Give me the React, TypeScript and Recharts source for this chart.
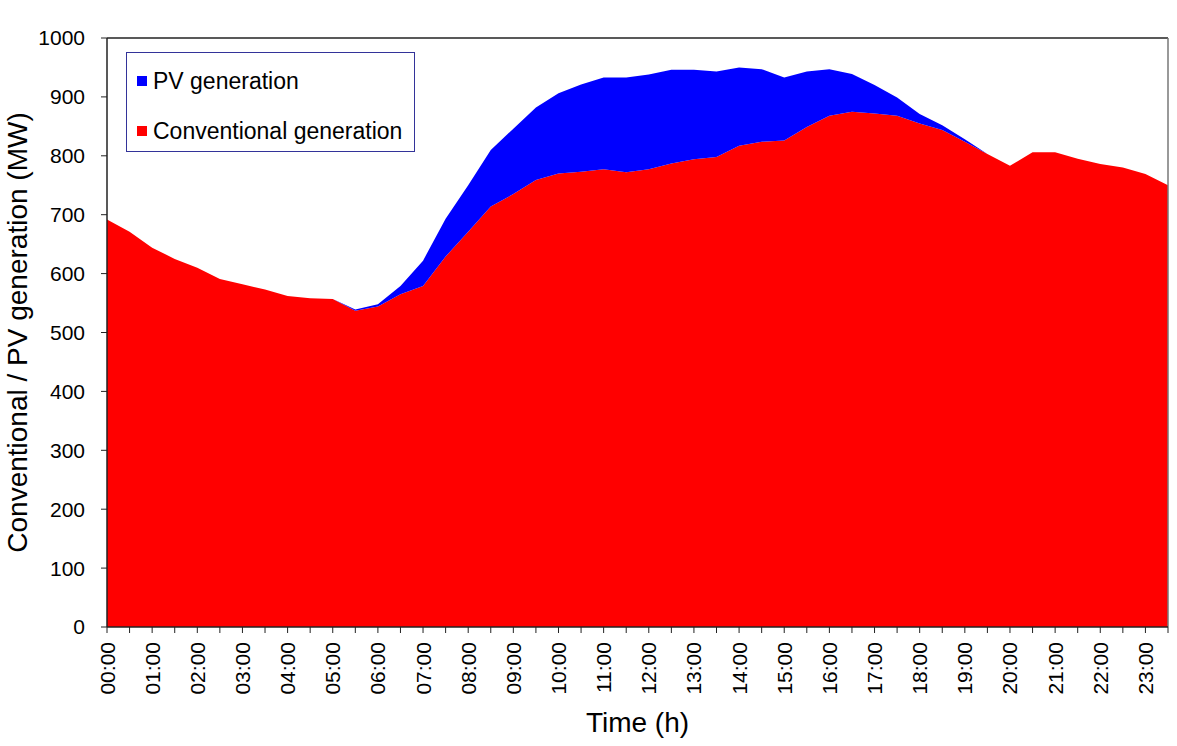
import { Area, AreaChart, ReferenceLine, XAxis, YAxis } from "recharts";

const TIMES = [
	"00:00", "00:30", "01:00", "01:30", "02:00", "02:30", "03:00", "03:30",
	"04:00", "04:30", "05:00", "05:30", "06:00", "06:30", "07:00", "07:30",
	"08:00", "08:30", "09:00", "09:30", "10:00", "10:30", "11:00", "11:30",
	"12:00", "12:30", "13:00", "13:30", "14:00", "14:30", "15:00", "15:30",
	"16:00", "16:30", "17:00", "17:30", "18:00", "18:30", "19:00", "19:30",
	"20:00", "20:30", "21:00", "21:30", "22:00", "22:30", "23:00", "23:30",
];

// conventional generation (MW)
const CONVENTIONAL = [
	692, 671, 644, 625, 610, 591, 582, 573, 562, 558, 557, 537, 544, 565, 579, 629,
	671, 714, 735, 759, 770, 773, 777, 772, 777, 787, 794, 798, 817, 824, 826, 849,
	868, 875, 872, 868, 855, 844, 824, 803, 783, 806, 806, 795, 786, 780, 769, 750,
];

// PV generation (MW), stacked on top
const PV = [
	0, 0, 0, 0, 0, 0, 0, 0, 0, 0, 0, 2, 4, 14, 43, 64,
	79, 96, 111, 123, 136, 148, 156, 161, 161, 159, 152, 145, 133, 123, 107, 94,
	79, 64, 48, 31, 16, 8, 4, 0, 0, 0, 0, 0, 0, 0, 0, 0,
];

const Y_TICKS = [0, 100, 200, 300, 400, 500, 600, 700, 800, 900, 1000];

const data = TIMES.map((t, i) => ({ time: t, conv: CONVENTIONAL[i], pv: PV[i] }));

const FONT = "'Liberation Sans', Arial, sans-serif";

function TimeTick(props: any) {
	const { x, y, payload } = props;
	if (String(payload.value).endsWith(":30")) return <g />;
	const ty = y + 7;
	return (
		<text
			x={x}
			y={ty}
			transform={`rotate(-90 ${x} ${ty})`}
			textAnchor="end"
			dominantBaseline="central"
			fontSize={21}
			fontFamily={FONT}
			fill="#000"
		>
			{payload.value}
		</text>
	);
}

function LegendBox() {
	const items = [
		{ label: "PV generation", color: "#0000ff", top: 15 },
		{ label: "Conventional generation", color: "#ff0000", top: 65 },
	];
	return (
		<div
			style={{
				position: "absolute",
				left: 126,
				top: 52,
				width: 289,
				height: 100,
				boxSizing: "border-box",
				border: "1px solid #333399",
				background: "#fff",
				fontFamily: FONT,
			}}
		>
			{items.map((it) => (
				<div key={it.label} style={{ position: "absolute", left: 10, top: it.top, display: "flex", alignItems: "center" }}>
					<span style={{ width: 10, height: 10, background: it.color, display: "inline-block", marginRight: 6 }} />
					<span style={{ fontSize: 23, color: "#000", lineHeight: "26px", whiteSpace: "nowrap" }}>{it.label}</span>
				</div>
			))}
		</div>
	);
}

export default function App() {
	return (
		<div style={{ position: "absolute", left: 0, top: 0, width: 1177, height: 746, background: "#fff" }}>
			<AreaChart
				width={1177}
				height={746}
				data={data}
				margin={{ top: 38, right: 9, left: 0, bottom: 0 }}
			>
				<XAxis
					dataKey="time"
					interval={0}
					height={119}
					tick={<TimeTick />}
					tickSize={6}
					axisLine={{ stroke: "#222", strokeWidth: 1.5 }}
					tickLine={{ stroke: "#222" }}
					label={{
						value: "Time (h)",
						position: "insideBottom",
						offset: 14,
						fontSize: 28,
						fontFamily: FONT,
						fill: "#000",
					}}
				/>
				<YAxis
					domain={[0, 1000]}
					ticks={Y_TICKS}
					width={107}
					tickSize={6}
					tickMargin={16}
					axisLine={{ stroke: "#222", strokeWidth: 1.5 }}
					tickLine={{ stroke: "#222" }}
					tick={{ fontSize: 21, fontFamily: FONT, fill: "#000" }}
					label={{
						value: "Conventional / PV generation (MW)",
						angle: -90,
						position: "insideLeft",
						dx: 12,
						dy: 0,
						fontSize: 28,
						fontFamily: FONT,
						fill: "#000",
						style: { textAnchor: "middle" },
					}}
				/>
				<Area
					type="linear"
					dataKey="conv"
					name="Conventional generation"
					stackId="g"
					fill="#ff0000"
					fillOpacity={1}
					stroke="none"
					isAnimationActive={false}
				/>
				<Area
					type="linear"
					dataKey="pv"
					name="PV generation"
					stackId="g"
					fill="#0000ff"
					fillOpacity={1}
					stroke="none"
					isAnimationActive={false}
				/>
				<ReferenceLine y={1000} stroke="#222" strokeWidth={1.5} />
				<ReferenceLine x="23:30" stroke="#777" strokeWidth={1.5} />
			</AreaChart>
			<LegendBox />
		</div>
	);
}
